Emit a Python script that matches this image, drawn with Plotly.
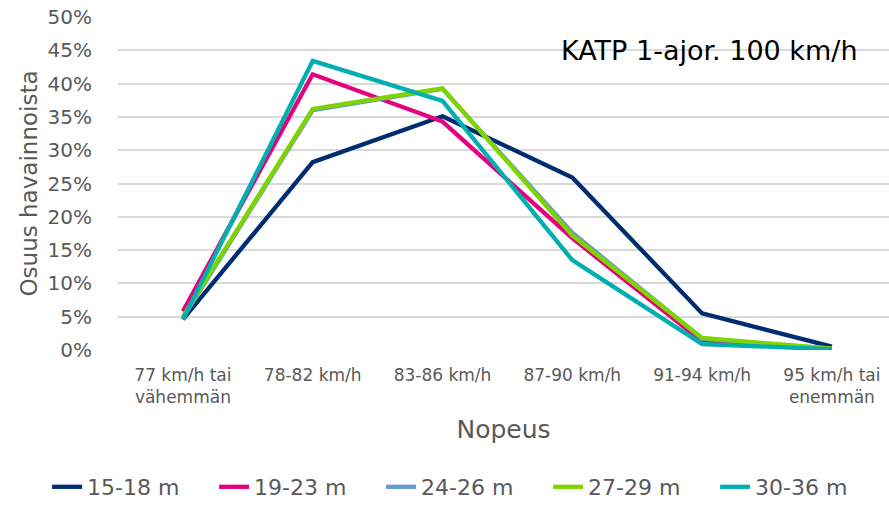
import plotly.graph_objects as go

# speed classes (x axis)
categories = [
    "77 km/h tai<br>vähemmän",
    "78-82 km/h",
    "83-86 km/h",
    "87-90 km/h",
    "91-94 km/h",
    "95 km/h tai<br>enemmän",
]

# share of observations per headway class
s_15_18 = [0.046, 0.282, 0.351, 0.259, 0.055, 0.005]
s_19_23 = [0.058, 0.414, 0.343, 0.168, 0.013, 0.002]
s_24_26 = [0.048, 0.360, 0.392, 0.176, 0.017, 0.002]
s_27_29 = [0.050, 0.362, 0.393, 0.172, 0.018, 0.002]
s_30_36 = [0.046, 0.434, 0.374, 0.135, 0.009, 0.001]

series_names = ["15-18 m", "19-23 m", "24-26 m", "27-29 m", "30-36 m"]
series_values = [s_15_18, s_19_23, s_24_26, s_27_29, s_30_36]
colors = ["#002D72", "#E6007E", "#6699CC", "#7FD400", "#00AFB0"]

grey = "#595959"

fig = go.Figure()
for name, vals, col in zip(series_names, series_values, colors):
    fig.add_trace(
        go.Scatter(
            x=list(range(len(categories))),
            y=vals,
            name=name,
            mode="lines",
            line=dict(color=col, width=4.3),
        )
    )

fig.update_layout(
    width=889,
    height=508,
    margin=dict(l=118, r=0, t=17, b=158),
    paper_bgcolor="white",
    plot_bgcolor="white",
    font=dict(family="DejaVu Sans", color=grey),
    showlegend=True,
    legend=dict(
        orientation="h",
        x=-0.092,
        xanchor="left",
        y=-0.35,
        yanchor="top",
        font=dict(size=22, color=grey),
        entrywidth=122,
        entrywidthmode="pixels",
        traceorder="normal",
    ),
    xaxis=dict(
        tickmode="array",
        tickvals=list(range(len(categories))),
        ticktext=categories,
        range=[-0.5, 5.44],
        showgrid=False,
        zeroline=False,
        showline=False,
        ticks="",
        automargin=False,
        tickfont=dict(size=17, color=grey),
        ticklabelstandoff=13,
        title=dict(text="Nopeus", font=dict(size=25, color=grey), standoff=14),
    ),
    yaxis=dict(
        range=[0, 0.5],
        tickvals=[i * 0.05 for i in range(11)],
        tickformat=".0%",
        showgrid=True,
        gridcolor="#D9D9D9",
        gridwidth=1.5,
        zeroline=False,
        showline=False,
        ticks="",
        automargin=False,
        tickfont=dict(size=20, color=grey),
        ticklabelstandoff=25,
        title=dict(text="Osuus havainnoista", font=dict(size=23, color=grey), standoff=3),
    ),
)

fig.add_annotation(
    text="KATP 1-ajor. 100 km/h",
    xref="paper",
    yref="paper",
    x=0.963,
    y=0.9,
    xanchor="right",
    yanchor="middle",
    showarrow=False,
    font=dict(size=27, color="black"),
)

# drop the default page margin so the 889x508 figure fills the window
fig.write_html(
    "out.html",
    config={"displayModeBar": False},
    post_script="document.body.style.margin='0';",
)
